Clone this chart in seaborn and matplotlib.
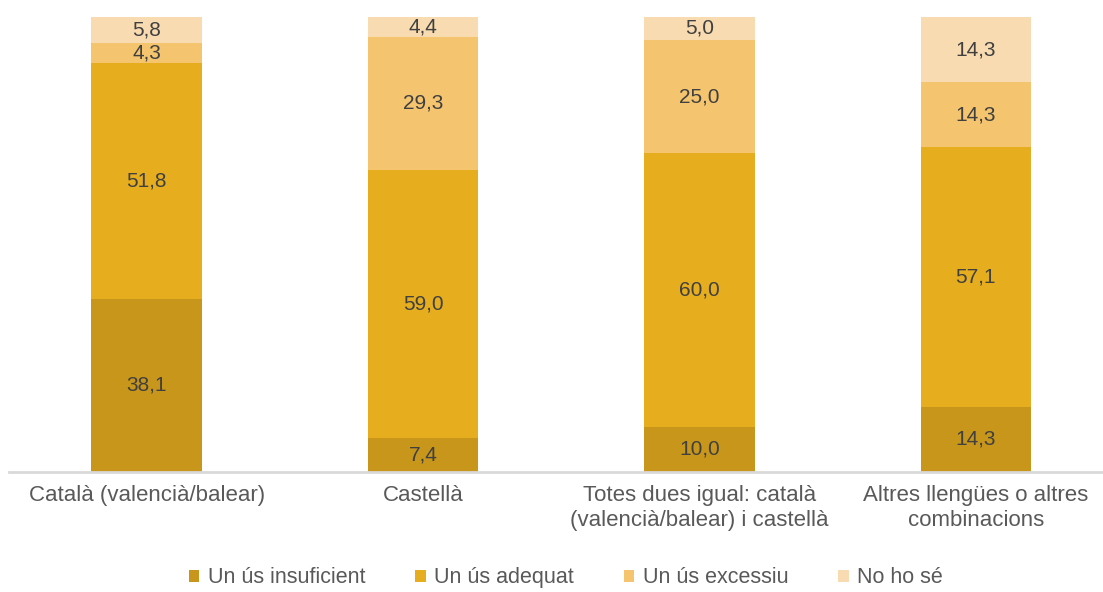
import numpy as np
import pandas as pd
import matplotlib
matplotlib.use('Agg')
import matplotlib.pyplot as plt
import seaborn as sns
from matplotlib.patches import Patch

# Data (percent)
categories = ['Català (valencià/balear)', 'Castellà',
              'Totes dues igual: català\n(valencià/balear) i castellà',
              'Altres llengües o altres\ncombinacions']
series_names = ['Un ús insuficient', 'Un ús adequat', 'Un ús excessiu', 'No ho sé']
insuficient = [38.1, 7.4, 10.0, 14.3]
adequat = [51.8, 59.0, 60.0, 57.1]
excessiu = [4.3, 29.3, 25.0, 14.3]
no_ho_se = [5.8, 4.4, 5.0, 14.3]
colors = ['#C8961A', '#E6AE1E', '#F4C46E', '#F8DBB0']

sns.set_theme(style='white')
plt.rcParams['font.family'] = ['Liberation Sans', 'DejaVu Sans']

df = pd.DataFrame({'cat': categories,
                   series_names[0]: insuficient,
                   series_names[1]: adequat,
                   series_names[2]: excessiu,
                   series_names[3]: no_ho_se})
values = df[series_names].to_numpy()
cum = values.cumsum(axis=1)

fig = plt.figure(figsize=(11.03, 5.92), dpi=100)
ax = fig.add_axes([8.5 / 1103, 0.2027, 1 - 8.5 / 1103, 0.7686])

# stacked bars: draw cumulative totals from the top layer down
for i in range(len(series_names) - 1, -1, -1):
    sns.barplot(x=df['cat'], y=cum[:, i], color=colors[i], width=0.4,
                saturation=1, ax=ax, linewidth=0, order=categories)

# value labels in the middle of each segment
for j in range(len(categories)):
    for i in range(len(series_names)):
        v = values[j, i]
        mid = cum[j, i] - v / 2
        ax.text(j, mid, f'{v:.1f}'.replace('.', ','), ha='center', va='center',
                fontsize=15, color='#404040')

ax.set_xlim(-0.5, 3.46)
ax.set_ylim(0, 100)
ax.set_xlabel('')
ax.set_ylabel('')
ax.set_yticks([])
sns.despine(ax=ax, left=True, top=True, right=True)
ax.spines['bottom'].set_color('#D9D9D9')
ax.spines['bottom'].set_linewidth(2)
ax.tick_params(axis='x', length=0, pad=9, labelsize=16, labelcolor='#595959')
for lbl in ax.get_xticklabels():
    lbl.set_linespacing(1.3)

handles = [Patch(facecolor=c, edgecolor='none') for c in colors]
fig.legend(handles, series_names, loc='center', bbox_to_anchor=(0.513, 0.024),
           ncol=4, frameon=False, fontsize=15.5, labelcolor='#595959',
           handlelength=0.5, handleheight=0.5, handletextpad=0.4, columnspacing=2.3,
           borderpad=0)

fig.savefig('out.png', dpi=100)
